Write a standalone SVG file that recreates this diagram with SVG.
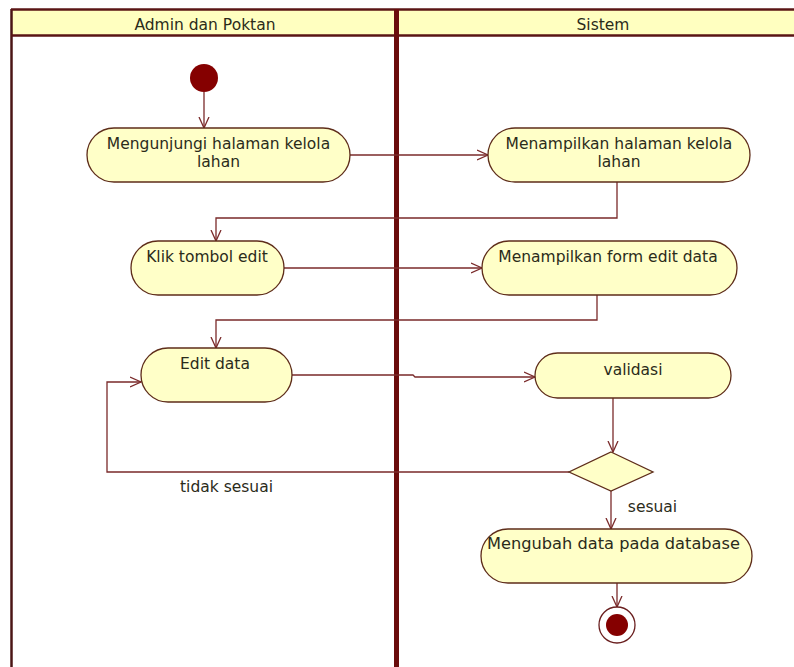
<svg xmlns="http://www.w3.org/2000/svg" width="794" height="667" viewBox="0 0 794 667">
<defs>
<style>
.node{fill:#FFFFC8;stroke:#5e2d1a;stroke-width:1.3}
.t{font-family:"DejaVu Sans",Verdana,sans-serif;font-size:15.5px;fill:#2b2b1a;text-anchor:middle}
.c{fill:none;stroke:#7a2a2a;stroke-width:1.3}
</style>
<marker id="ah" viewBox="0 0 12 12" refX="11" refY="6" markerWidth="12" markerHeight="12" markerUnits="userSpaceOnUse" orient="auto">
<path d="M0,1 L11,6 L0,11" fill="none" stroke="#7a2a2a" stroke-width="1.3"/>
</marker>
</defs>
<rect width="794" height="667" fill="#ffffff"/>
<g id="swimlanes">
<rect x="12" y="10" width="782" height="25" fill="#FFFFC0"/>
<line x1="11.5" y1="9" x2="11.5" y2="667" stroke="#4a1515" stroke-width="2.5"/>
<line x1="11" y1="9.5" x2="794" y2="9.5" stroke="#5a1515" stroke-width="2.5"/>
<line x1="11" y1="35.5" x2="794" y2="35.5" stroke="#5a1515" stroke-width="2.5"/>
<rect x="394" y="9" width="5" height="658" fill="#6a0c0c"/>
<text class="t" x="205" y="30">Admin dan Poktan</text>
<text class="t" x="603" y="30">Sistem</text>
</g>
<g id="connectors">
<path class="c" d="M204,92 L204,128" marker-end="url(#ah)"/>
<path class="c" d="M350,155 L488,155" marker-end="url(#ah)"/>
<path class="c" d="M617,182 L617,218 L216,218 L216,241" marker-end="url(#ah)"/>
<path class="c" d="M284,268 L482,268" marker-end="url(#ah)"/>
<path class="c" d="M597,295 L597,320 L216,320 L216,348" marker-end="url(#ah)"/>
<path class="c" d="M292,375 L413,375 L415,377 L535,377" marker-end="url(#ah)"/>
<path class="c" d="M613,398 L613,452" marker-end="url(#ah)"/>
<path class="c" d="M569,472 L107,472 L107,382 L141,382" marker-end="url(#ah)"/>
<path class="c" d="M611,491 L611,529" marker-end="url(#ah)"/>
<path class="c" d="M617,583 L617,607" marker-end="url(#ah)"/>
<text class="t" x="226.5" y="492">tidak sesuai</text>
<text class="t" x="652.5" y="512">sesuai</text>
</g>
<g id="start">
<circle cx="204" cy="78" r="14" fill="#850000"/>
</g>
<g id="act1">
<rect class="node" x="87" y="128" width="263" height="54" rx="27"/>
<text class="t" x="218.5" y="149">Mengunjungi halaman kelola</text>
<text class="t" x="218.5" y="167">lahan</text>
</g>
<g id="act2">
<rect class="node" x="488" y="128" width="262" height="54" rx="27"/>
<text class="t" x="619" y="149">Menampilkan halaman kelola</text>
<text class="t" x="619" y="167">lahan</text>
</g>
<g id="act3">
<rect class="node" x="131" y="241" width="153" height="54" rx="27"/>
<text class="t" x="207" y="262">Klik tombol edit</text>
</g>
<g id="act4">
<rect class="node" x="482" y="241" width="255" height="54" rx="27"/>
<text class="t" x="608" y="262">Menampilkan form edit data</text>
</g>
<g id="act5">
<rect class="node" x="141" y="348" width="151" height="54" rx="27"/>
<text class="t" x="215" y="369">Edit data</text>
</g>
<g id="validasi">
<rect class="node" x="535" y="353" width="196" height="45" rx="22.5"/>
<text class="t" x="633" y="375">validasi</text>
</g>
<g id="decision">
<polygon class="node" points="611,452 653,472 611,491 569,472"/>
</g>
<g id="act6">
<rect class="node" x="481" y="529" width="271" height="54" rx="27"/>
<text class="t" x="613.5" y="549" textLength="253" lengthAdjust="spacingAndGlyphs">Mengubah data pada database</text>
</g>
<g id="end">
<circle cx="617" cy="625" r="18" fill="#ffffff" stroke="#6a1f1f" stroke-width="1.3"/>
<circle cx="617" cy="625" r="11" fill="#850000"/>
</g>
</svg>
